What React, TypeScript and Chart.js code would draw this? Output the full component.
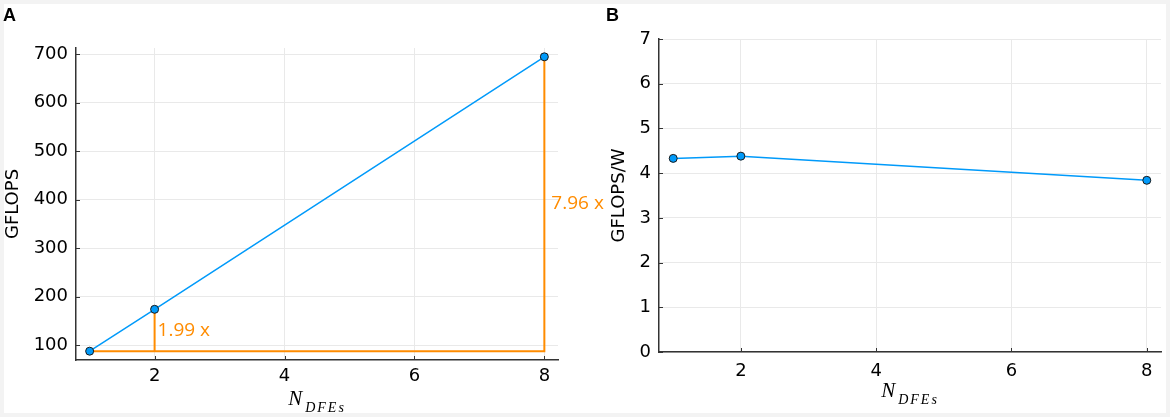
import React, { useEffect, useRef } from "react";
import Chart from "chart.js/auto";

// values
const nDfes = [1, 2, 8];
const gflops = [87.3, 173.7, 694.9];
const gflopsPerWatt = [4.33, 4.38, 3.84];
const xTicks = [2, 4, 6, 8];
const gflopsTicks = [100, 200, 300, 400, 500, 600, 700];
const effTicks = [0, 1, 2, 3, 4, 5, 6, 7];
const speedupLabels = ["1.99 x", "7.96 x"];

const BLUE = "#009afa";
const ORANGE = "#ff8c00";
const AXIS = "#333333";
const GRID = "#e9e9e9";
const TICK_FONT = { family: "'DejaVu Sans', sans-serif", size: 18 };

// draws the inward tick marks and the N_DFEs axis title (with subscript)
function decorPlugin(extra?: (chart: any) => void) {
  return {
    id: "decor",
    afterDraw(chart: any) {
      const { ctx, chartArea: a } = chart;
      const xs = chart.scales.x;
      const ys = chart.scales.y;
      ctx.save();
      ctx.strokeStyle = AXIS;
      ctx.lineWidth = 1;
      ctx.beginPath();
      xs.ticks.forEach((t: any) => {
        const px = Math.round(xs.getPixelForValue(t.value)) + 0.5;
        ctx.moveTo(px, a.bottom);
        ctx.lineTo(px, a.bottom - 4);
      });
      ys.ticks.forEach((t: any) => {
        const py = Math.round(ys.getPixelForValue(t.value)) + 0.5;
        ctx.moveTo(a.left, py);
        ctx.lineTo(a.left + 4, py);
      });
      ctx.stroke();

      if (extra) extra(chart);

      // x axis title: N with subscript DFEs
      const big = "italic 21px 'Liberation Serif', 'DejaVu Serif', serif";
      const small = "italic 14px 'Liberation Serif', 'DejaVu Serif', serif";
      ctx.fillStyle = "#000";
      ctx.textBaseline = "alphabetic";
      ctx.textAlign = "left";
      ctx.font = big;
      const wN = ctx.measureText("N").width;
      ctx.font = small;
      (ctx as any).letterSpacing = "2px";
      const wSub = ctx.measureText("DFEs").width;
      const gap = 3;
      const x0 = (a.left + a.right) / 2 - (wN + gap + wSub) / 2;
      const base = a.bottom + 45;
      ctx.fillText("DFEs", x0 + wN + gap, base + 7);
      (ctx as any).letterSpacing = "0px";
      ctx.font = big;
      ctx.fillText("N", x0, base);
      ctx.restore();
    },
  };
}

function makeScales(
  yMin: number,
  yMax: number,
  yTicks: number[],
  yTitle: string,
  yWidth: number,
  titlePad: number,
  xHeight: number,
  xTickPad: number
) {
  return {
    x: {
      type: "linear" as const,
      min: 0.79,
      max: 8.21,
      afterBuildTicks: (s: any) => {
        s.ticks = xTicks.map((v) => ({ value: v }));
      },
      afterFit: (s: any) => {
        s.height = xHeight;
      },
      grid: { color: GRID, lineWidth: 1, drawTicks: false },
      border: { color: AXIS, width: 1.5 },
      ticks: { font: TICK_FONT, color: "#000", padding: xTickPad, maxRotation: 0 },
    },
    y: {
      type: "linear" as const,
      min: yMin,
      max: yMax,
      afterBuildTicks: (s: any) => {
        s.ticks = yTicks.map((v) => ({ value: v }));
      },
      afterFit: (s: any) => {
        s.width = yWidth;
      },
      grid: { color: GRID, lineWidth: 1, drawTicks: false },
      border: { color: AXIS, width: 1.5 },
      ticks: { font: TICK_FONT, color: "#000", padding: 8 },
      title: {
        display: true,
        text: yTitle,
        color: "#000",
        font: { ...TICK_FONT, lineHeight: 1 },
        padding: { top: titlePad, bottom: 0 },
      },
    },
  };
}

const markerStyle = {
  borderColor: BLUE,
  borderWidth: 1.5,
  pointRadius: 4,
  pointBackgroundColor: BLUE,
  pointBorderColor: "#1a1a1a",
  pointBorderWidth: 1,
};

function ThroughputChart() {
  const ref = useRef<HTMLCanvasElement | null>(null);

  useEffect(() => {
    if (!ref.current) return;

    const drawSpeedups = (chart: any) => {
      const { ctx } = chart;
      const xs = chart.scales.x;
      const ys = chart.scales.y;
      const offsets = [3, 7];
      ctx.fillStyle = ORANGE;
      ctx.font = "19px 'Open Sans', sans-serif";
      ctx.textAlign = "left";
      ctx.textBaseline = "middle";
      speedupLabels.forEach((label, i) => {
        const idx = i + 1;
        const px = xs.getPixelForValue(nDfes[idx]) + offsets[i];
        const py = ys.getPixelForValue((gflops[0] + gflops[idx]) / 2);
        ctx.fillText(label, px, py);
      });
    };

    const chart = new Chart(ref.current, {
      type: "line",
      data: {
        datasets: [
          {
            data: nDfes.map((n, i) => ({ x: n, y: gflops[i] })),
            ...markerStyle,
          },
          {
            data: [
              { x: nDfes[0], y: gflops[0] },
              { x: nDfes[2], y: gflops[0] },
              { x: nDfes[2], y: gflops[2] },
            ],
            borderColor: ORANGE,
            borderWidth: 2,
            pointRadius: 0,
          },
          {
            data: [
              { x: nDfes[1], y: gflops[0] },
              { x: nDfes[1], y: gflops[1] },
            ],
            borderColor: ORANGE,
            borderWidth: 2,
            pointRadius: 0,
          },
        ],
      },
      options: {
        responsive: false,
        animation: false,
        layout: { padding: { left: 0, top: 44, right: 76, bottom: 0 } },
        plugins: { legend: { display: false }, tooltip: { enabled: false } },
        scales: makeScales(69.1, 713.1, gflopsTicks, "GFLOPS", 72, 0, 53, 6) as any,
      },
      plugins: [decorPlugin(drawSpeedups)],
    });

    return () => chart.destroy();
  }, []);

  return <canvas ref={ref} width={630} height={409} />;
}

function EfficiencyChart() {
  const ref = useRef<HTMLCanvasElement | null>(null);

  useEffect(() => {
    if (!ref.current) return;
    const chart = new Chart(ref.current, {
      type: "line",
      data: {
        datasets: [
          {
            data: nDfes.map((n, i) => ({ x: n, y: gflopsPerWatt[i] })),
            ...markerStyle,
          },
        ],
      },
      options: {
        responsive: false,
        animation: false,
        layout: { padding: { left: 0, top: 35, right: 1, bottom: 0 } },
        plugins: { legend: { display: false }, tooltip: { enabled: false } },
        scales: makeScales(0, 7, effTicks, "GFLOPS/W", 79, 30, 61, 9) as any,
      },
      plugins: [decorPlugin()],
    });
    return () => chart.destroy();
  }, []);

  return <canvas ref={ref} width={586} height={409} />;
}

const panelLabel: React.CSSProperties = {
  position: "absolute",
  top: 6,
  font: "bold 18px 'Liberation Sans', Arial, sans-serif",
  lineHeight: 1,
  color: "#000",
};

export default function App() {
  return (
    <div
      style={{
        position: "absolute",
        left: 0,
        top: 0,
        width: 1170,
        height: 417,
        background: "#f3f3f3",
      }}
    >
      <div
        style={{
          position: "absolute",
          left: 4,
          top: 4,
          width: 1162,
          height: 409,
          background: "#fff",
        }}
      />
      <div style={{ position: "absolute", left: 580, top: 4 }}>
        <EfficiencyChart />
      </div>
      <div style={{ position: "absolute", left: 4, top: 4 }}>
        <ThroughputChart />
      </div>
      <div style={{ ...panelLabel, left: 3 }}>A</div>
      <div style={{ ...panelLabel, left: 606 }}>B</div>
    </div>
  );
}
